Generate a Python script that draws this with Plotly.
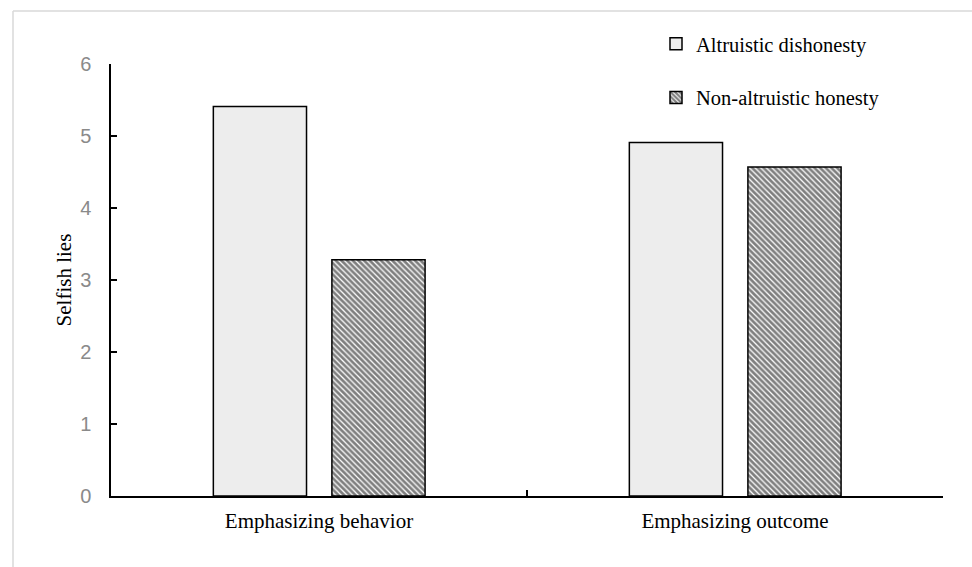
import plotly.graph_objects as go

categories = ["Emphasizing behavior", "Emphasizing outcome"]
altruistic_dishonesty = [5.41, 4.91]
non_altruistic_honesty = [3.28, 4.57]
y_ticks = [0, 1, 2, 3, 4, 5, 6]

# bar width and left-edge offsets, in category units
BAR_W = 0.224
OFFSETS = [-0.254, 0.031]

fig = go.Figure()
fig.add_trace(go.Bar(
    x=categories, y=altruistic_dishonesty, name="Altruistic dishonesty",
    width=BAR_W, offset=OFFSETS[0],
    marker=dict(color="#EDEDED", line=dict(color="black", width=1.5)),
    legendgroup="a",
))
fig.add_trace(go.Bar(
    x=categories, y=non_altruistic_honesty, name="Non-altruistic honesty",
    width=BAR_W, offset=OFFSETS[1],
    marker=dict(color="white", line=dict(color="black", width=1.5),
                pattern=dict(shape="\\", fgcolor="black", bgcolor="white",
                             size=4, solidity=0.68)),
    legendgroup="b",
))

W, H = 972, 567
L, R, T, B = 111, 29, 64, 71
pw, ph = W - L - R, H - T - B

fig.update_layout(
    width=W, height=H,
    margin=dict(l=L, r=R, t=T, b=B),
    paper_bgcolor="white", plot_bgcolor="white",
    barmode="overlay",
    showlegend=True,
    legend=dict(x=(656 - L) / pw, y=(H - B - 24) / ph, xanchor="left", yanchor="top",
                font=dict(family="Liberation Serif", size=20.5, color="black"),
                traceorder="grouped", tracegroupgap=24, itemwidth=30,
                bgcolor="rgba(0,0,0,0)"),
    font=dict(family="Liberation Sans"),
    shapes=[
        # light frame around the chart
        dict(type="line", xref="paper", yref="paper",
             x0=(13 - L) / pw, x1=(W + 10 - L) / pw,
             y0=(H - B - 11) / ph, y1=(H - B - 11) / ph,
             line=dict(color="#d9d9d9", width=1.5)),
        dict(type="line", xref="paper", yref="paper",
             x0=(13 - L) / pw, x1=(13 - L) / pw,
             y0=(H - B - 11) / ph, y1=-(B + 10) / ph,
             line=dict(color="#d9d9d9", width=1.5)),
    ],
)
fig.update_xaxes(
    type="category", range=[-0.5, 1.5],
    showline=True, linecolor="black", linewidth=2,
    ticks="inside", tickson="boundaries", ticklen=6, tickcolor="black", tickwidth=2,
    tickfont=dict(family="Liberation Serif", size=21, color="black"),
    ticklabelstandoff=5,
    showgrid=False, zeroline=False,
)
fig.update_yaxes(
    range=[0, 6], tickvals=y_ticks,
    showline=True, linecolor="black", linewidth=1.5,
    ticks="inside", ticklen=6, tickcolor="black", tickwidth=1.5,
    tickfont=dict(family="Liberation Sans", size=20, color="#8a8a8a"),
    ticklabelstandoff=14,
    showgrid=False, zeroline=False,
    title=dict(text="Selfish lies", font=dict(family="Liberation Serif", size=21, color="black"),
               standoff=3),
)

fig.write_html("out.html")
